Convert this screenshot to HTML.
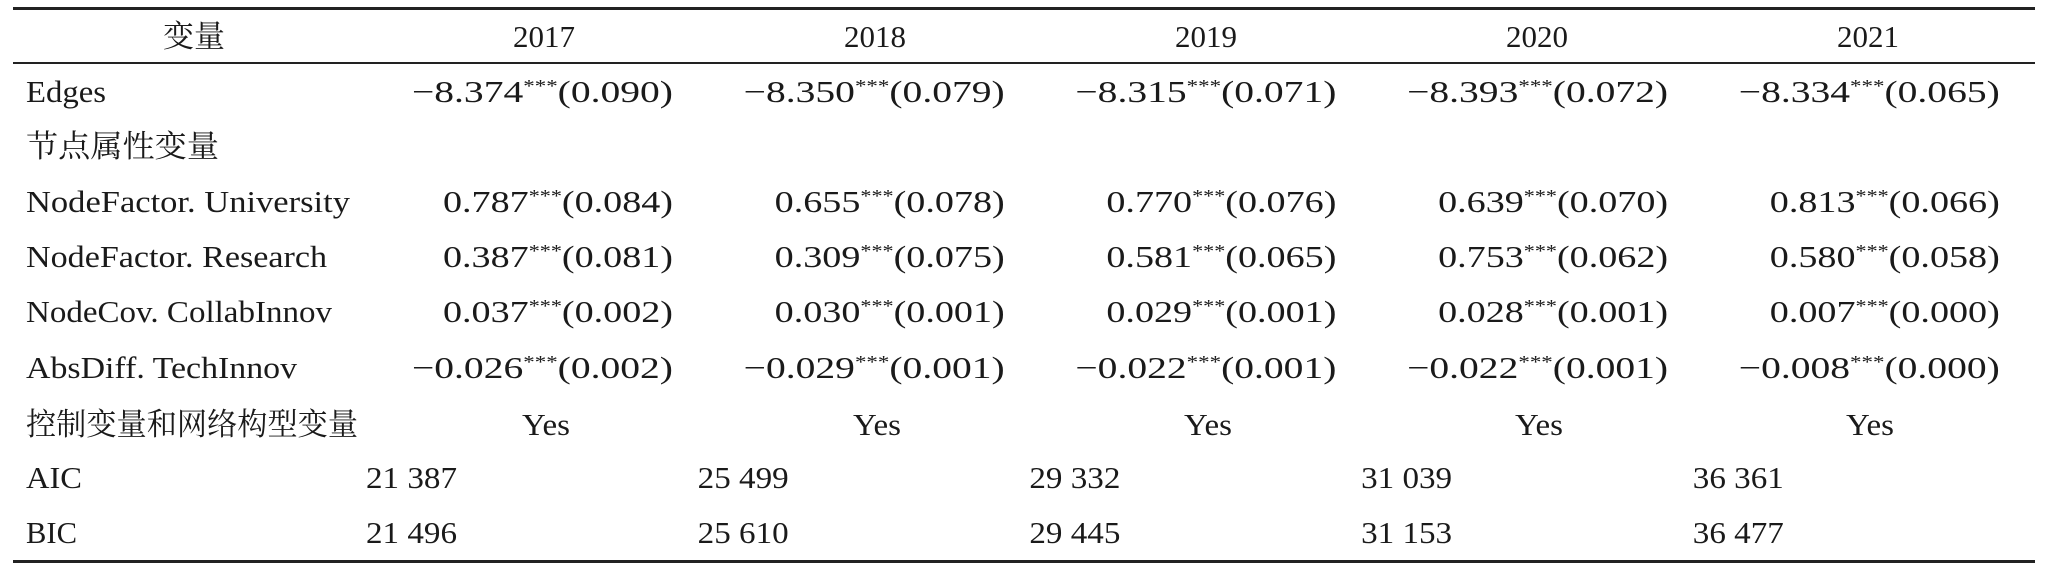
<!DOCTYPE html>
<html><head><meta charset="utf-8"><style>
html,body{margin:0;padding:0;background:#fff;}
svg{display:block;}
text{font-family:"Liberation Serif","Noto Serif CJK SC",serif;font-size:31px;fill:#1a1a1a;}
</style></head><body>
<svg id="tbl" width="2048" height="576" viewBox="0 0 2048 576" xmlns="http://www.w3.org/2000/svg">
<rect x="13" y="7" width="2022" height="3" fill="#222"/>
<rect x="13" y="62" width="2022" height="2" fill="#222"/>
<rect x="13" y="560" width="2022" height="3" fill="#222"/>
</svg>
<script>
const years = ["2017","2018","2019","2020","2021"];
const rowLabels = ["Edges","节点属性变量","NodeFactor. University","NodeFactor. Research","NodeCov. CollabInnov","AbsDiff. TechInnov","控制变量和网络构型变量","AIC","BIC"];
const coefEdges = ["−8.374","−8.350","−8.315","−8.393","−8.334"];
const seEdges = ["0.090","0.079","0.071","0.072","0.065"];
const coefUniv = ["0.787","0.655","0.770","0.639","0.813"];
const seUniv = ["0.084","0.078","0.076","0.070","0.066"];
const coefRes = ["0.387","0.309","0.581","0.753","0.580"];
const seRes = ["0.081","0.075","0.065","0.062","0.058"];
const coefCollab = ["0.037","0.030","0.029","0.028","0.007"];
const seCollab = ["0.002","0.001","0.001","0.001","0.000"];
const coefAbs = ["−0.026","−0.029","−0.022","−0.022","−0.008"];
const seAbs = ["0.002","0.001","0.001","0.001","0.000"];
const controls = ["Yes","Yes","Yes","Yes","Yes"];
const aic = ["21 387","25 499","29 332","31 039","36 361"];
const bic = ["21 496","25 610","29 445","31 153","36 477"];
const labelWidths = [80,193,324,301,306,271,332,56,51];

const svg = document.getElementById('tbl');
const NS = "http://www.w3.org/2000/svg";
const rowY = [92,147,202,257,312,368,425,478,533];
const colCenter = i => 544 + i*331;
const colRight = i => 673 + i*331.7;
const colLeft = i => 366 + i*331.7;
function txt(x,y,s,anchor,len){
  const t = document.createElementNS(NS,'text');
  t.setAttribute('x',x); t.setAttribute('y',y+10);
  t.setAttribute('text-anchor',anchor||'start');
  if(len){ t.setAttribute('textLength',len); t.setAttribute('lengthAdjust','spacingAndGlyphs'); }
  t.textContent = s;
  svg.appendChild(t);
  return t;
}
let h = txt(194,37,"变量","middle",62);


years.forEach((y,i)=>{
  const t = txt(colCenter(i),37,y,"middle",62);
  
  
});
rowLabels.forEach((l,r)=>{
  const t = txt(26,rowY[r],l,"start",labelWidths[r]);
  
  
});
function coefCell(r,coefs,ses,name){
  coefs.forEach((c,i)=>{
    const neg = c.startsWith('−');
    const t = document.createElementNS(NS,'text');
    t.setAttribute('x',colRight(i)); t.setAttribute('y',rowY[r]+10);
    t.setAttribute('text-anchor','end');
    t.setAttribute('textLength', neg?261:230);
    t.setAttribute('lengthAdjust','spacingAndGlyphs');
    const a = document.createElementNS(NS,'tspan'); a.textContent = c;
    const b = document.createElementNS(NS,'tspan'); b.textContent = "***";
    b.setAttribute('font-size','18'); b.setAttribute('dy','-10');
    const d = document.createElementNS(NS,'tspan'); d.textContent = "("+ses[i]+")";
    d.setAttribute('dy','10');
    t.appendChild(a); t.appendChild(b); t.appendChild(d);
    
    
    svg.appendChild(t);
  });
}
coefCell(0,coefEdges,seEdges,'edges-coef');
coefCell(2,coefUniv,seUniv,'university-coef');
coefCell(3,coefRes,seRes,'research-coef');
coefCell(4,coefCollab,seCollab,'collabinnov-coef');
coefCell(5,coefAbs,seAbs,'techinnov-coef');
controls.forEach((c,i)=>{
  const t = txt(colCenter(i)+2,rowY[6],c,"middle",48);
  
  
});
aic.forEach((v,i)=>{
  const t = txt(colLeft(i),rowY[7],v,"start",91);
  
  
});
bic.forEach((v,i)=>{
  const t = txt(colLeft(i),rowY[8],v,"start",91);
  
  
});
</script>
</body></html>
